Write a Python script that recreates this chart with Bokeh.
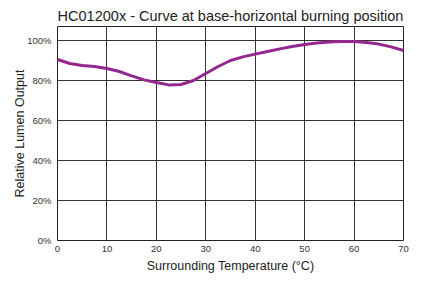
from bokeh.plotting import figure
from bokeh.embed import file_html
from bokeh.resources import INLINE
from bokeh.models import FixedTicker, Range1d

temps = [0, 2.5, 5, 7.5, 10, 12.5, 15, 17.5, 20, 22.5, 25, 27.5, 30, 32.5, 35,
         37.5, 40, 42.5, 45, 47.5, 50, 52.5, 55, 57.5, 60, 62.5, 65, 67.5, 70]
lumen = [90.5, 88.5, 87.5, 87.0, 86.0, 84.5, 82.3, 80.3, 79.0, 77.8, 78.0, 80.0, 83.5, 87.0, 90.0,
         91.8, 93.2, 94.5, 95.8, 97.0, 98.0, 98.8, 99.3, 99.5, 99.5, 99.0, 98.2, 96.8, 95.0]
x_ticks = [0, 10, 20, 30, 40, 50, 60, 70]
y_ticks = [0, 20, 40, 60, 80, 100]
y_labels = {0: "0%", 20: "20%", 40: "40%", 60: "60%", 80: "80%", 100: "100%"}

FONT = "Liberation Sans"

p = figure(width=422, height=281, output_backend="svg", toolbar_location=None,
           x_range=Range1d(0, 70), y_range=Range1d(0, 107),
           title="HC01200x - Curve at base-horizontal burning position",
           min_border_left=57, min_border_right=19, min_border_top=26, min_border_bottom=41)

p.title.text_font = FONT
p.title.text_font_size = "14.5px"
p.title.text_font_style = "normal"
p.title.align = "center"
p.title.text_color = "#222222"
p.title.offset = -4
p.title.standoff = 5

p.outline_line_color = "#222222"
p.outline_line_width = 1

for ax in (p.xaxis, p.yaxis):
    ax.axis_line_color = None
    ax.major_tick_line_color = None
    ax.minor_tick_line_color = None
    ax.major_tick_out = 0
    ax.major_tick_in = 0
    ax.minor_tick_out = 0
    ax.minor_tick_in = 0
    ax.major_label_text_font = FONT
    ax.major_label_text_font_size = "9.5px"
    ax.major_label_text_color = "#333333"
    ax.axis_label_text_font = FONT
    ax.axis_label_text_font_size = "12.5px"
    ax.axis_label_text_font_style = "normal"
    ax.axis_label_text_color = "#222222"

p.xaxis.ticker = FixedTicker(ticks=x_ticks)
p.yaxis.ticker = FixedTicker(ticks=y_ticks)
p.yaxis.major_label_overrides = y_labels
p.xaxis.axis_label = "Surrounding Temperature (°C)"
p.yaxis.axis_label = "Relative Lumen Output"
p.xaxis.major_label_standoff = 5
p.yaxis.major_label_standoff = 6
p.xaxis.axis_label_standoff = 4
p.yaxis.axis_label_standoff = -3

p.xgrid.ticker = FixedTicker(ticks=x_ticks)
p.ygrid.ticker = FixedTicker(ticks=y_ticks)
p.xgrid.grid_line_color = "#333333"
p.ygrid.grid_line_color = "#333333"
p.xgrid.grid_line_width = 1
p.ygrid.grid_line_width = 1

p.line(temps, lumen, line_color="#93278F", line_width=3)

open("out.html", "w").write(file_html(p, INLINE))
